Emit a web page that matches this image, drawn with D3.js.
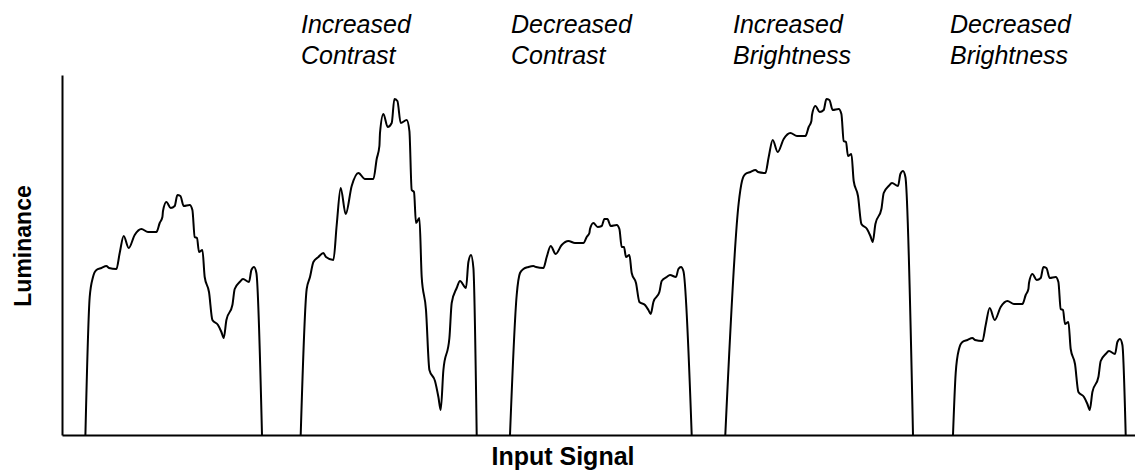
<!DOCTYPE html>
<html>
<head>
<meta charset="utf-8">
<script src="https://cdn.jsdelivr.net/npm/d3@7"></script>
<style>
  body { margin: 0; background: #fff; }
  svg { display: block; }
</style>
</head>
<body>
<script>
'use strict';

// sample positions along the input signal, relative to the knee of each pulse
const sampleOffsets = [-3.3, 0, 3.4, 8.4, 13.4, 16, 23.4, 26.7, 30.7, 35.7, 41.7, 48.4, 55, 63.4,
  66.7, 69.4, 70, 73.4, 77.7, 81.7, 84.4, 87.4, 90.7, 96.7, 99.4, 101.7, 104, 106, 109.4, 111.7,
  116, 119.4, 125, 128.4, 130.7, 133.4, 139.4, 141.7, 146.7, 150, 156, 158.4, 161, 163.4];

// where each pulse sits on the input axis, and where its edges meet the baseline
const segmentKnees = [31, 248, 458, 680, 897];
const edgeStarts = [-7.6, -9.3, -10, -16.7, -6];
const edgeEnds = [169, 166.7, 171.7, 171, 166.7];

const segmentLabels = [
  [],
  ["Increased", "Contrast"],
  ["Decreased", "Contrast"],
  ["Increased", "Brightness"],
  ["Decreased", "Brightness"]
];

// luminance values
const lumOriginal = [138, 158, 165, 167, 169, 167, 166, 182, 199, 187, 200, 206, 203, 203, 212,
  218, 224, 233, 227, 229, 240, 239, 229, 230, 225, 198, 197, 183, 185, 158, 143, 115, 110, 103,
  97, 115, 130, 146, 153, 156, 153, 165, 168, 162];
const lumIncContrast = [146, 158, 173, 178, 182, 178, 175, 210, 247, 221, 249, 262, 256, 256, 276,
  289, 302, 321, 308, 312, 336, 334, 312, 315, 304, 245, 243, 212, 217, 158, 125, 65, 54, 38,
  25, 65, 97, 132, 147, 154, 147, 173, 180, 167];
const lumDecContrast = [140, 162, 166, 168, 169, 168, 167, 178, 189, 181, 190, 194, 192, 192, 198,
  202, 206, 212, 208, 209, 216, 216, 209, 210, 206, 188, 188, 178, 180, 162, 152, 133, 130, 125,
  121, 133, 143, 154, 158, 160, 158, 166, 168, 164];
const lumIncBrightness = [232, 254, 261, 263, 265, 263, 262, 278, 295, 283, 296, 302, 299, 299, 308,
  314, 320, 329, 323, 325, 336, 335, 325, 326, 321, 294, 293, 279, 281, 254, 239, 211, 206, 199,
  193, 211, 226, 242, 249, 252, 249, 261, 264, 258];
const lumDecBrightness = [62, 86, 93, 95, 97, 95, 94, 110, 127, 115, 128, 134, 131, 131, 140,
  146, 152, 161, 155, 157, 168, 167, 157, 158, 153, 126, 125, 111, 113, 86, 71, 43, 38, 31,
  25, 43, 58, 74, 81, 84, 81, 93, 96, 90];

const segmentValues = [lumOriginal, lumIncContrast, lumDecContrast, lumIncBrightness, lumDecBrightness];

(function () {

  let svgContainer = "";

  window.onload = function () {
    svgContainer = d3.select('body')
      .append('svg')
      .attr('width', 1135)
      .attr('height', 470);

    let map = drawAxes();
    plotData(map);
    makeLabels(map);
  }

  // plain axis lines with no ticks
  function drawAxes() {
    let xScale = d3.scaleLinear()
      .domain([0, 1073])
      .range([62, 1135]);

    let yScale = d3.scaleLinear()
      .domain([0, 360])
      .range([435, 75]);

    let xAxis = d3.axisBottom(xScale).ticks(0).tickSizeOuter(0);
    svgContainer.append('g')
      .attr('transform', 'translate(0, 435)')
      .call(xAxis)
      .call(g => g.select('.domain').attr('stroke', '#000').attr('stroke-width', 2));

    let yAxis = d3.axisLeft(yScale).ticks(0).tickSizeOuter(0);
    svgContainer.append('g')
      .attr('transform', 'translate(62, 0)')
      .call(yAxis)
      .call(g => g.select('.domain').attr('stroke', '#000').attr('stroke-width', 2));

    return { xScale: xScale, yScale: yScale };
  }

  function plotData(map) {
    let line = d3.line()
      .x(d => map.xScale(d.x))
      .y(d => map.yScale(d.y))
      .curve(d3.curveMonotoneX);

    segmentValues.forEach((values, i) => {
      let knee = segmentKnees[i];
      let points = [{ x: knee + edgeStarts[i], y: 0 }];
      values.forEach((v, j) => points.push({ x: knee + sampleOffsets[j], y: v }));
      points.push({ x: knee + edgeEnds[i], y: 0 });

      svgContainer.append('path')
        .datum(points)
        .attr('d', line)
        .attr('fill', 'none')
        .attr('stroke', '#000')
        .attr('stroke-width', 2)
        .attr('stroke-linejoin', 'round');
    });
  }

  // segment titles and axis labels
  function makeLabels(map) {
    segmentLabels.forEach((lines, i) => {
      lines.forEach((txt, k) => {
        svgContainer.append('text')
          .attr('x', map.xScale(segmentKnees[i]) - 9)
          .attr('y', 33 + k * 31)
          .style('font-family', '"Liberation Sans", Arial, sans-serif')
          .style('font-style', 'italic')
          .style('font-size', '25px')
          .text(txt);
      });
    });

    svgContainer.append('text')
      .attr('x', 563)
      .attr('y', 465)
      .attr('text-anchor', 'middle')
      .style('font-family', '"Liberation Sans", Arial, sans-serif')
      .style('font-weight', 'bold')
      .style('font-size', '25px')
      .text('Input Signal');

    svgContainer.append('text')
      .attr('transform', 'translate(31, 246)rotate(-90)')
      .attr('text-anchor', 'middle')
      .style('font-family', '"Liberation Sans", Arial, sans-serif')
      .style('font-weight', 'bold')
      .style('font-size', '23px')
      .text('Luminance');
  }
})();
</script>
</body>
</html>
